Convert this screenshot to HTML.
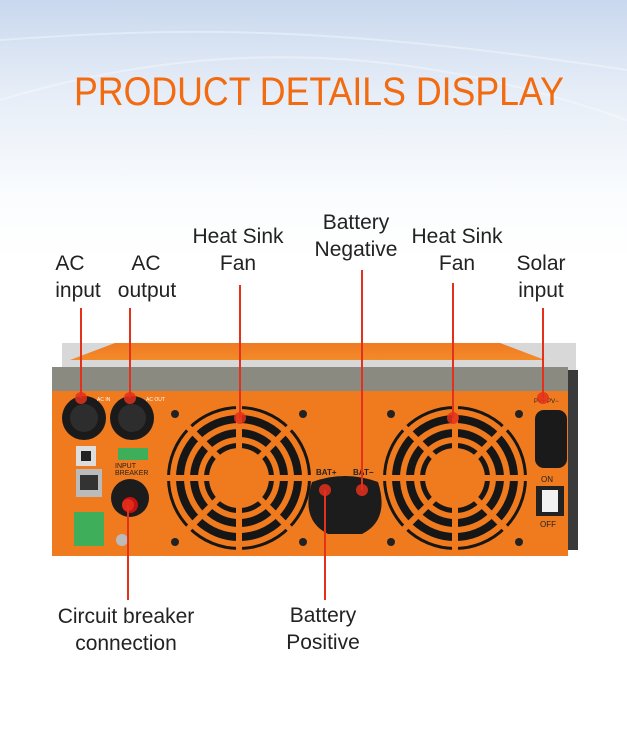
<!DOCTYPE html>
<html><head><meta charset="utf-8"><style>
html,body{margin:0;padding:0;width:627px;height:734px;overflow:hidden;background:#fff}
svg{display:block}
text{font-family:"Liberation Sans",sans-serif}
</style></head><body>
<svg width="627" height="734" viewBox="0 0 627 734" xmlns="http://www.w3.org/2000/svg">
<defs>
<linearGradient id="bg" x1="0" y1="0" x2="0" y2="1">
<stop offset="0" stop-color="#c9d8ee"/><stop offset="0.35" stop-color="#e6edf7"/><stop offset="0.75" stop-color="#fafcfe"/><stop offset="1" stop-color="#ffffff"/>
</linearGradient>
<linearGradient id="roof" x1="0" y1="0" x2="0" y2="1">
<stop offset="0" stop-color="#f07a22"/><stop offset="1" stop-color="#f28a2a"/>
</linearGradient>
<g id="fan">
<rect x="-76" y="-76" width="152" height="152" fill="#f07a1e"/>
<circle r="72" fill="#161616"/>
<g fill="none" stroke="#f07a1e">
<circle r="66" stroke-width="6"/><circle r="52" stroke-width="6"/><circle r="38" stroke-width="6"/>
</g>
<circle r="30" fill="#f07a1e"/>
<g stroke="#f07a1e" stroke-width="6">
<line x1="-75" y1="0" x2="75" y2="0"/><line x1="0" y1="-75" x2="0" y2="75"/>
<line x1="-53" y1="-53" x2="53" y2="53"/><line x1="-53" y1="53" x2="53" y2="-53"/>
</g>
<circle cx="-64" cy="-64" r="4" fill="#222"/><circle cx="64" cy="-64" r="4" fill="#222"/>
<circle cx="-64" cy="64" r="4" fill="#222"/><circle cx="64" cy="64" r="4" fill="#222"/>
</g>
</defs>
<rect width="627" height="260" fill="url(#bg)"/>
<path d="M0 40 C150 30 300 20 627 70" stroke="#fff" stroke-width="2" fill="none" opacity="0.35"/>
<path d="M0 100 C200 40 400 40 627 120" stroke="#fff" stroke-width="2" fill="none" opacity="0.35"/>

<text x="74" y="105" font-size="40" fill="#f26b10" textLength="490" lengthAdjust="spacingAndGlyphs">PRODUCT DETAILS DISPLAY</text>

<!-- device -->
<rect x="62" y="343" width="514" height="30" fill="#d8d8d8"/>
<rect x="560" y="370" width="18" height="180" fill="#3a3a3a"/>
<path d="M70 360 L115 343 L500 343 L545 360 Z" fill="url(#roof)"/>
<rect x="52" y="367" width="516" height="26" fill="#8a8a80"/>
<rect x="52" y="391" width="516" height="165" fill="#f07a1e"/>
<use href="#fan" x="239" y="478"/>
<use href="#fan" x="455" y="478"/>
<circle cx="84" cy="418" r="22" fill="#1a1a1a"/><circle cx="84" cy="418" r="14" fill="#2d2d2d"/>
<circle cx="132" cy="418" r="22" fill="#1a1a1a"/><circle cx="132" cy="418" r="14" fill="#2d2d2d"/>
<text x="97" y="401" font-size="5" fill="#fff">AC IN</text>
<text x="146" y="401" font-size="5" fill="#fff">AC OUT</text>
<rect x="76" y="446" width="20" height="20" fill="#ddd"/><rect x="81" y="451" width="10" height="10" fill="#222"/>
<rect x="118" y="448" width="30" height="12" fill="#3fae5a"/>
<text x="115" y="468" font-size="7" fill="#222">INPUT</text>
<text x="115" y="475" font-size="7" fill="#222">BREAKER</text>
<rect x="76" y="469" width="26" height="28" fill="#bbb"/><rect x="80" y="475" width="18" height="15" fill="#333"/>
<circle cx="130" cy="498" r="19" fill="#1c1c1c"/><circle cx="130" cy="505" r="8" fill="#c81010"/>
<rect x="74" y="512" width="30" height="34" fill="#3fae5a"/>
<circle cx="122" cy="540" r="6" fill="#bbb"/>
<path d="M312 482 Q345 470 378 482 Q390 520 362 534 L328 534 Q300 520 312 482Z" fill="#1c1c1c"/>
<text x="316" y="475" font-size="8" font-weight="bold" fill="#222">BAT+</text>
<text x="353" y="475" font-size="8" font-weight="bold" fill="#222">BAT−</text>
<rect x="535" y="410" width="32" height="58" rx="9" fill="#1a1a1a"/>
<text x="534" y="403" font-size="6" fill="#222">PV+ PV−</text>
<text x="541" y="482" font-size="8" fill="#222">ON</text>
<rect x="536" y="486" width="28" height="30" fill="#222"/><rect x="542" y="490" width="16" height="22" fill="#f2f2f2"/>
<text x="540" y="527" font-size="8" fill="#222">OFF</text>

<g stroke="#e4311b" stroke-width="2">
<line x1="81" y1="308" x2="81" y2="398"/><line x1="130" y1="308" x2="130" y2="398"/>
<line x1="240" y1="285" x2="240" y2="418"/><line x1="362" y1="270" x2="362" y2="490"/>
<line x1="453" y1="283" x2="453" y2="418"/><line x1="543" y1="308" x2="543" y2="398"/>
<line x1="128" y1="505" x2="128" y2="600"/><line x1="325" y1="490" x2="325" y2="600"/>
</g>
<g fill="#e4311b" opacity="0.85">
<circle cx="81" cy="398" r="6"/><circle cx="130" cy="398" r="6"/><circle cx="240" cy="418" r="6"/>
<circle cx="362" cy="490" r="6"/><circle cx="453" cy="418" r="6"/><circle cx="543" cy="398" r="6"/>
<circle cx="128" cy="505" r="6"/><circle cx="325" cy="490" r="6"/>
</g>

<g font-size="21" fill="#222" text-anchor="middle">
<text x="70" y="270">AC</text><text x="78" y="297">input</text>
<text x="146" y="270">AC</text><text x="147" y="297">output</text>
<text x="238" y="243">Heat Sink</text><text x="238" y="270">Fan</text>
<text x="356" y="229">Battery</text><text x="356" y="256">Negative</text>
<text x="457" y="243">Heat Sink</text><text x="457" y="270">Fan</text>
<text x="541" y="270">Solar</text><text x="541" y="297">input</text>
<text x="126" y="623">Circuit breaker</text><text x="126" y="650">connection</text>
<text x="323" y="622">Battery</text><text x="323" y="649">Positive</text>
</g>
</svg>
</body></html>
